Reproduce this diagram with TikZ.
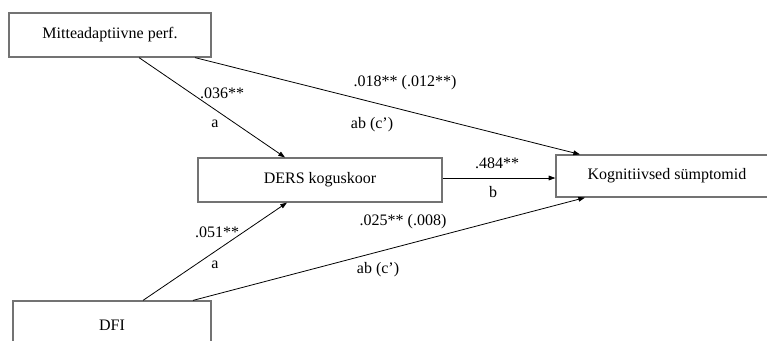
\documentclass[tikz,border=0pt]{standalone}
\usepackage{fontspec}
\setmainfont{Liberation Serif}
\usepackage{tikz}
\usetikzlibrary{arrows.meta}
\usetikzlibrary{calc}

\tikzset{
  varbox/.style={draw=gray!90!black, line width=0.9pt, rectangle, inner sep=0pt,
                 font=\fontsize{12}{14}\selectfont},
  path/.style={draw=black, line width=0.6pt, -{Triangle[length=5pt,width=3.5pt]}},
  coef/.style={font=\fontsize{12}{14}\selectfont, inner sep=0pt}
}

\begin{document}
\begin{tikzpicture}[x=0.75pt, y=-0.75pt]
  % Frame (the right and bottom boxes run over the edge)
  \clip (0,0) rectangle (767,340);
  \fill[white] (0,0) rectangle (767,340);

  % Variables
  \node[varbox, minimum width=202*0.75pt, minimum height=44*0.75pt] (perf) at (110,35) {Mitteadaptiivne perf.};
  \node[varbox, minimum width=244*0.75pt, minimum height=44*0.75pt] (ders) at (320,180) {DERS koguskoor};
  \node[varbox, minimum width=222*0.75pt, minimum height=42*0.75pt] (kog) at (667,176) {Kognitiivsed sümptomid};
  \node[varbox, minimum width=198*0.75pt, minimum height=48*0.75pt] (dfi) at (112,325) {DFI};

  % Paths
  \draw[path] ([xshift=29*0.75pt]perf.south) -- ([xshift=-35*0.75pt]ders.north);
  \draw[path] ([xshift=85*0.75pt]perf.south) -- ([xshift=-87*0.75pt]kog.north);
  \draw[path] ([yshift=1.5pt]ders.east) -- ([yshift=1.5pt]ders.east -| kog.west);
  \draw[path] ([xshift=31*0.75pt]dfi.north) -- ([xshift=-33*0.75pt]ders.south);
  \draw[path] ([xshift=81*0.75pt]dfi.north) -- ([xshift=-82*0.75pt]kog.south);

  % Coefficients
  \node[coef] (c1) at (222,93) {.036**};
  \node[coef] (a1) at (215,124) {a};
  \node[coef] (c2) at (405,83) {.018** (.012**)};
  \node[coef] (ab1) at (372,125) {ab (c')};
  \node[coef] (c3) at (497,163) {.484**};
  \node[coef] (b1) at (493,192) {b};
  \node[coef] (c4) at (217,232) {.051**};
  \node[coef] (a2) at (215,265) {a};
  \node[coef] (c5) at (403,222) {.025** (.008)};
  \node[coef] (ab2) at (378,270) {ab (c')};
\end{tikzpicture}
\end{document}
